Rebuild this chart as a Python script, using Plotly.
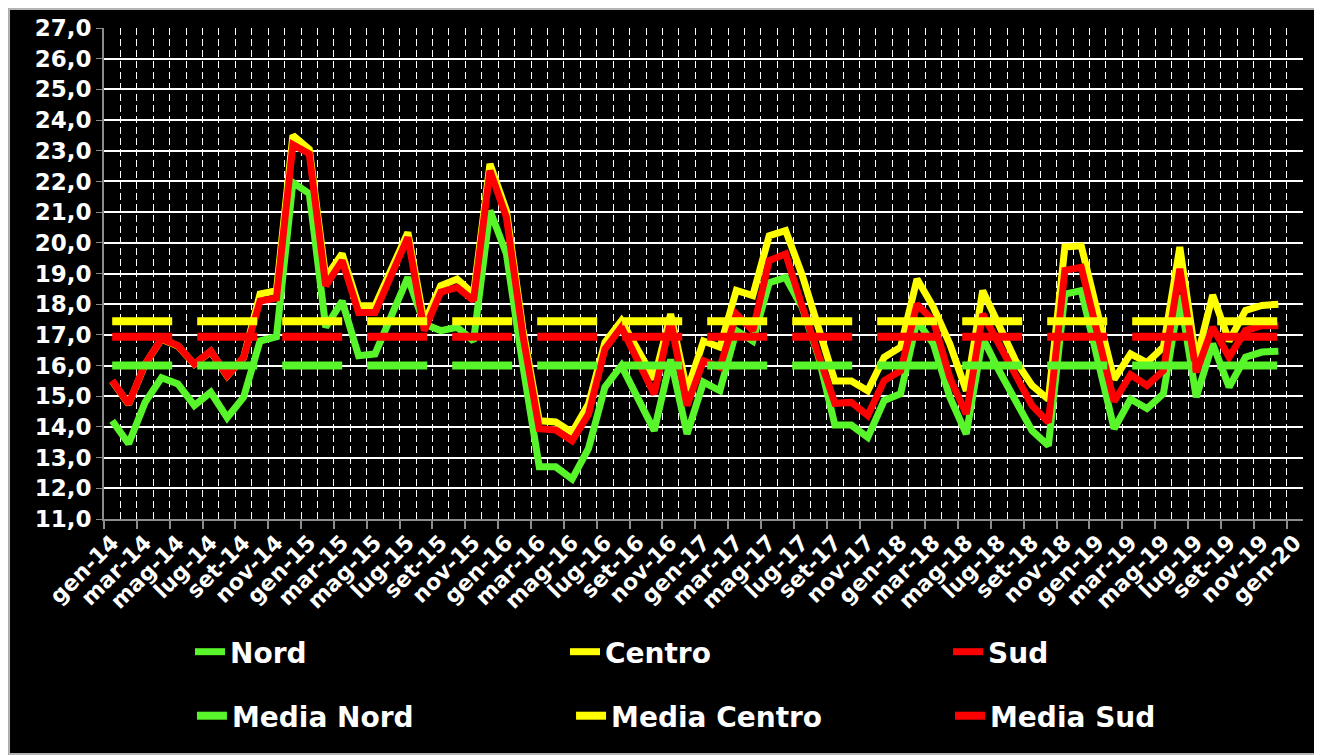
import plotly.graph_objects as go

# ---------------- data ----------------
MONTHS = ["gen", "feb", "mar", "apr", "mag", "giu", "lug", "ago", "set", "ott", "nov", "dic"]
YEARS = ["14", "15", "16", "17", "18", "19"]
categories = [f"{m}-{y}" for y in YEARS for m in MONTHS] + ["gen-20"]   # 73 axis slots

nord = [14.2, 13.45, 14.8, 15.6, 15.4, 14.7, 15.13, 14.3, 14.97, 16.8, 16.94, 21.97,
        21.6, 17.25, 18.1, 16.32, 16.38, 17.68, 18.87, 17.35, 17.14, 17.25, 16.8, 21.05,
        19.64, 16.0, 12.7, 12.7, 12.3, 13.3, 15.3, 16.0, 14.97, 13.88, 16.2, 13.77,
        15.46, 15.18, 17.14, 16.8, 18.7, 18.87, 17.9, 16.3, 14.06, 14.06, 13.66, 14.86,
        15.08, 17.46, 16.7, 14.97, 13.77, 16.9, 15.83, 14.86, 13.88, 13.39, 18.33, 18.44,
        16.2, 13.94, 14.91, 14.6, 15.08, 18.3, 14.97, 16.71, 15.3, 16.27, 16.44, 16.47]

centro = [15.5, 14.74, 16.04, 16.86, 16.64, 16.04, 16.46, 15.66, 16.26, 18.33, 18.44, 23.5,
          23.05, 18.87, 19.64, 17.95, 17.95, 19.2, 20.34, 17.4, 18.6, 18.82, 18.33, 22.57,
          21.05, 17.2, 14.2, 14.16, 13.82, 14.75, 16.76, 17.46, 16.54, 15.56, 17.68, 15.18,
          16.8, 16.6, 18.45, 18.28, 20.23, 20.4, 18.96, 17.25, 15.5, 15.5, 15.18, 16.27,
          16.6, 18.82, 17.9, 16.7, 15.18, 18.44, 17.3, 16.16, 15.35, 14.9, 19.86, 19.9,
          17.7, 15.55, 16.38, 16.1, 16.6, 19.86, 16.16, 18.3, 16.8, 17.8, 17.96, 18.0]

sud = [15.51, 14.75, 16.05, 16.87, 16.65, 16.05, 16.47, 15.67, 16.27, 18.1, 18.2, 23.2,
       22.9, 18.6, 19.42, 17.73, 17.73, 18.98, 20.18, 17.14, 18.39, 18.55, 18.12, 22.35,
       20.83, 17.0, 13.94, 13.9, 13.55, 14.42, 16.54, 17.25, 16.16, 15.07, 17.46, 14.7,
       16.16, 15.94, 17.68, 17.14, 19.42, 19.64, 17.94, 16.35, 14.77, 14.8, 14.37, 15.51,
       15.83, 18.0, 17.46, 15.6, 14.42, 17.68, 16.7, 15.62, 14.7, 14.15, 19.1, 19.2,
       17.03, 14.83, 15.7, 15.35, 15.84, 19.15, 15.78, 17.25, 16.27, 17.14, 17.3, 17.3]

media_nord = 16.0
media_centro = 17.44
media_sud = 16.94

y_ticks = [11, 12, 13, 14, 15, 16, 17, 18, 19, 20, 21, 22, 23, 24, 25, 26, 27]

# ---------------- styling ----------------
GREEN = "#58F52B"
YELLOW = "#FFFF00"
RED = "#FF0000"
FONT = "DejaVu Sans"

n = len(nord)
xs = list(range(n))
label_pos = list(range(0, len(categories), 2))
label_txt = [categories[i] for i in label_pos]

fig = go.Figure()

series = [("Nord", nord, GREEN, "legend"), ("Centro", centro, YELLOW, "legend2"),
          ("Sud", sud, RED, "legend3")]
for name, vals, col, lg in series:
    fig.add_trace(go.Scatter(x=xs, y=vals, name=name, mode="lines",
                             line=dict(color=col, width=7), legend=lg))

medias = [("Media Nord", media_nord, GREEN, "legend4"), ("Media Centro", media_centro, YELLOW, "legend5"),
          ("Media Sud", media_sud, RED, "legend6")]
for name, val, col, lg in medias:
    fig.add_trace(go.Scatter(x=xs, y=[val] * n, name=name, mode="lines", xaxis="x2",
                             line=dict(color=col, width=8, dash="60px,25px"), legend=lg))


def leg(x, y):
    return dict(orientation="h", xref="container", yref="container", x=x, y=y,
                xanchor="left", yanchor="middle", bgcolor="rgba(0,0,0,0)",
                font=dict(family=FONT, size=28, color="white", weight="bold"))


fig.update_layout(
    width=1314, height=747,
    paper_bgcolor="black", plot_bgcolor="black",
    margin=dict(l=96, r=19, t=20, b=236, autoexpand=False),
    separators=",.",
    showlegend=True,
    legend=leg(0.1385, 0.1379),
    legend2=leg(0.4239, 0.1379),
    legend3=leg(0.7154, 0.1379),
    legend4=leg(0.1400, 0.0522),
    legend5=leg(0.4285, 0.0522),
    legend6=leg(0.7169, 0.0522),
    xaxis=dict(
        range=[-0.5, len(categories) - 0.5], tickmode="array", tickvals=label_pos, ticktext=label_txt,
        tickangle=-45, ticks="", showgrid=False, zeroline=False, automargin=False,
        showline=True, linecolor="#8c8c8c", linewidth=2,
        tickfont=dict(family=FONT, size=22, color="white", weight="bold"),
        minor=dict(tickmode="linear", tick0=-0.5, dtick=1, showgrid=True,
                   gridcolor="white", gridwidth=1, griddash="7px,4px", ticks=""),
    ),
    xaxis2=dict(
        overlaying="x", matches="x", side="bottom", range=[-0.5, len(categories) - 0.5],
        tickmode="linear", tick0=-0.5, dtick=2, ticks="outside", ticklen=9, tickcolor="#8c8c8c",
        tickwidth=1.5, showticklabels=False, showgrid=False, zeroline=False, automargin=False,
    ),
    yaxis=dict(
        range=[11, 27], tickmode="array", tickvals=y_ticks, tickformat=".1f",
        showgrid=True, gridcolor="white", gridwidth=1.5, zeroline=False, automargin=False,
        showline=True, linecolor="#8c8c8c", linewidth=2, ticks="outside", ticklen=6,
        tickcolor="#8c8c8c",
        tickfont=dict(family=FONT, size=23, color="white", weight="bold"),
    ),
    shapes=[dict(type="rect", xref="paper", yref="paper",
                 x0=-0.0792, x1=1.015, y0=-0.4786, y1=1.0387,
                 line=dict(color="#b4b4b4", width=2), layer="above")],
)

fig.write_html("out.html")
